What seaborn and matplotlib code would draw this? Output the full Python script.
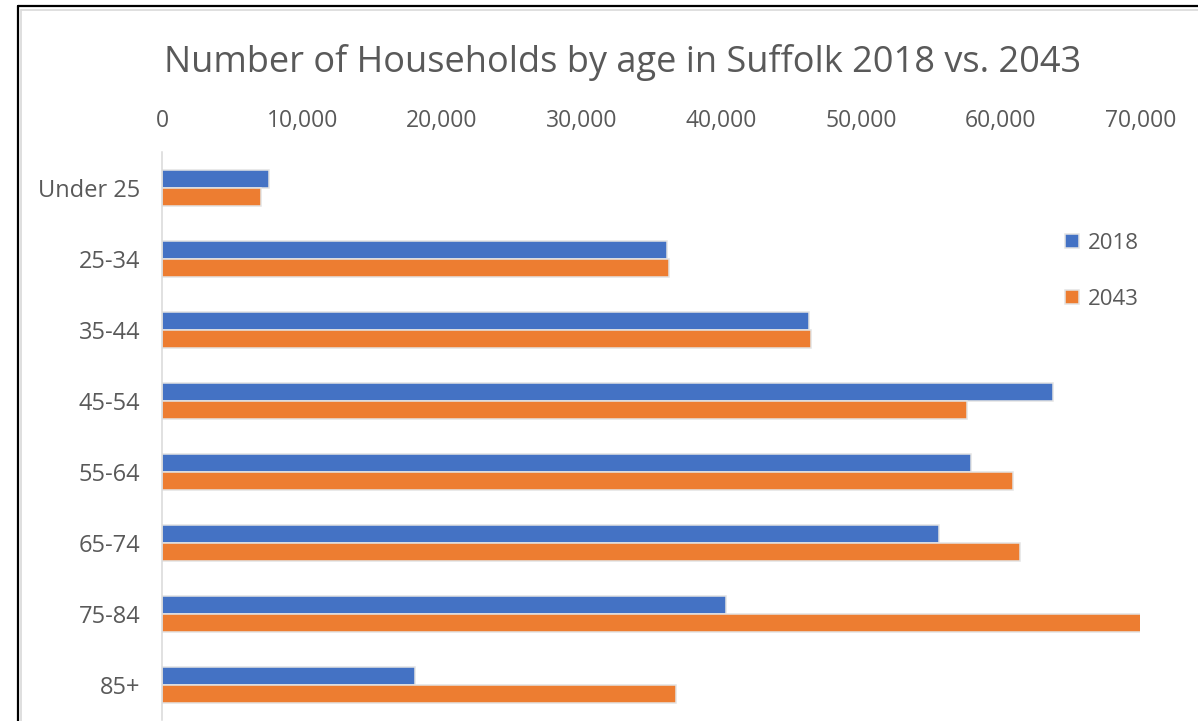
import matplotlib
matplotlib.use("Agg")
import matplotlib.pyplot as plt
from matplotlib.lines import Line2D
from matplotlib.ticker import FuncFormatter
import seaborn as sns
import pandas as pd

# Households by age band, Suffolk
age_bands = ["Under 25", "25-34", "35-44", "45-54", "55-64", "65-74", "75-84", "85+"]
years = ["2018", "2043"]
households_2018 = [7650, 36100, 46300, 63750, 57900, 55550, 40300, 18050]
households_2043 = [7050, 36250, 46450, 57600, 60900, 61400, 70050, 36750]
x_ticks = [0, 10000, 20000, 30000, 40000, 50000, 60000, 70000]

colors = {"2018": "#4472C4", "2043": "#ED7D31"}
text_color = "#595959"
grid_grey = "#D9D9D9"

df = pd.DataFrame({
    "age": age_bands * 2,
    "year": [years[0]] * len(age_bands) + [years[1]] * len(age_bands),
    "households": households_2018 + households_2043,
})

sns.set_theme(style="white")
plt.rcParams["font.family"] = ["Open Sans", "DejaVu Sans"]

fig = plt.figure(figsize=(11.98, 7.21), dpi=100)
ax = fig.add_axes([0.1356, 0.0007, 0.8164, 0.7878])

sns.barplot(
    data=df, x="households", y="age", hue="year", order=age_bands,
    hue_order=years, palette=colors, orient="h", width=0.5,
    saturation=1, edgecolor="#E3E3E3", linewidth=1.1, ax=ax,
)

ax.set_xlim(0, 70000)
ax.set_xticks(x_ticks)
ax.xaxis.set_major_formatter(FuncFormatter(lambda v, _: f"{int(v):,}"))
ax.xaxis.tick_top()
ax.tick_params(axis="x", length=0, pad=14, labelsize=16.5, labelcolor=text_color)
ax.tick_params(axis="y", length=0, pad=16, labelsize=17, labelcolor=text_color)
ax.set_xlabel("")
ax.set_ylabel("")

for side in ("top", "right", "bottom"):
    ax.spines[side].set_visible(False)
ax.spines["left"].set_color(grid_grey)
ax.spines["left"].set_linewidth(1.1)
ax.set_facecolor("none")

handles, labels = ax.get_legend_handles_labels()
ax.get_legend().remove()
fig.legend(
    handles, labels, loc="upper left", bbox_to_anchor=(0.889, 0.677),
    frameon=False, fontsize=16, handlelength=0.62, handleheight=0.62,
    handletextpad=0.4, labelspacing=1.56, borderpad=0, borderaxespad=0,
    labelcolor=text_color,
)

fig.text(0.52, 1 - 71.7 / 721, "Number of Households by age in Suffolk 2018 vs. 2043",
         ha="center", va="baseline", fontsize=26, color=text_color)

# Chart frame: outer black border and inner light-grey chart area border
fig.add_artist(Line2D([17.5 / 1198, 17.5 / 1198], [0, 1 - 6 / 721],
                      color="black", lw=1.6, transform=fig.transFigure))
fig.add_artist(Line2D([17.5 / 1198, 1], [1 - 6 / 721, 1 - 6 / 721],
                      color="black", lw=1.6, transform=fig.transFigure))
fig.add_artist(Line2D([21 / 1198, 21 / 1198], [0, 1 - 9.5 / 721],
                      color=grid_grey, lw=1.2, transform=fig.transFigure))
fig.add_artist(Line2D([21 / 1198, 1], [1 - 9.5 / 721, 1 - 9.5 / 721],
                      color=grid_grey, lw=1.2, transform=fig.transFigure))

fig.savefig("out.png", dpi=100, facecolor="white")
